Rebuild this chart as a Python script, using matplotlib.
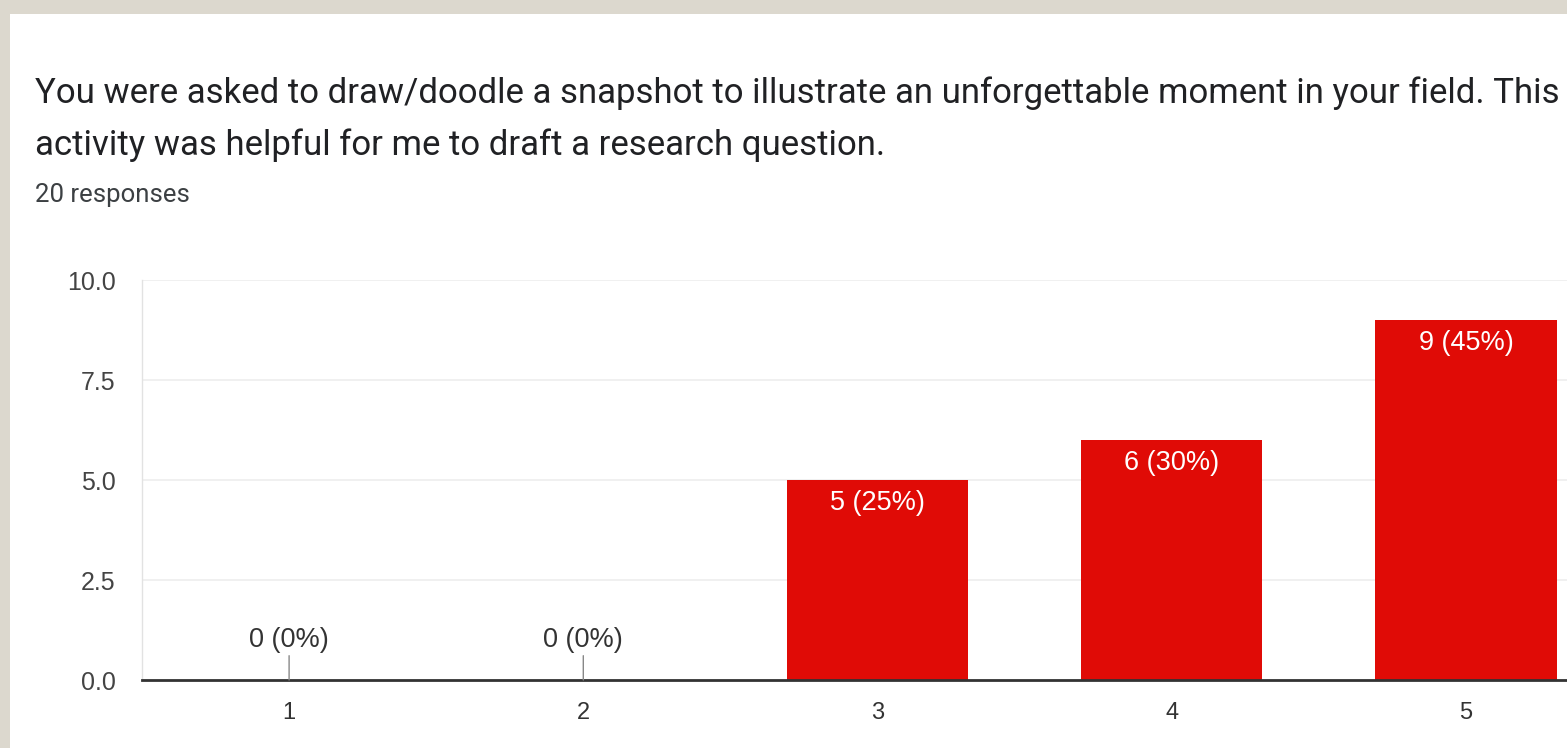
import matplotlib
matplotlib.use("Agg")
import matplotlib.pyplot as plt
from matplotlib.patches import Rectangle

# Survey results (linear scale question)
categories = ["1", "2", "3", "4", "5"]
counts = [0, 0, 5, 6, 9]
total_responses = 20
y_ticks = [0.0, 2.5, 5.0, 7.5, 10.0]

title_lines = [
    "You were asked to draw/doodle a snapshot to illustrate an unforgettable moment in your field. This",
    "activity was helpful for me to draft a research question.",
]
subtitle = f"{total_responses} responses"

BAR_RED = "#e00b06"
PAGE_BG = "#dcd8ce"
TEXT_DARK = "#202124"
TICK_GREY = "#444444"

W, H, DPI = 1567, 748, 100
fig = plt.figure(figsize=(W / DPI, H / DPI), dpi=DPI)
fig.patch.set_facecolor(PAGE_BG)

# white card on the beige page
card = Rectangle((10 / W, 0), 1, 1 - 14 / H, transform=fig.transFigure,
                 facecolor="white", edgecolor="none", zorder=-10)
fig.patches.append(card)

# heading text
fig.text(35 / W, 1 - 103 / H, title_lines[0], family="Roboto", fontsize=25,
         color=TEXT_DARK, va="baseline", ha="left")
fig.text(35 / W, 1 - 155 / H, title_lines[1], family="Roboto", fontsize=25,
         color=TEXT_DARK, va="baseline", ha="left")
fig.text(35 / W, 1 - 202 / H, subtitle, family="Roboto", fontsize=18.5,
         color="#3c4043", va="baseline", ha="left")

# plot area
left_px, right_px, bottom_px, top_px = 142, 1613, 680, 280
ax = fig.add_axes([left_px / W, 1 - bottom_px / H,
                   (right_px - left_px) / W, (bottom_px - top_px) / H])
ax.set_facecolor("white")

x = list(range(1, len(categories) + 1))
ax.bar(x, counts, width=0.616, color=BAR_RED, zorder=3)

ax.set_xlim(0.5, len(categories) + 0.5)
ax.set_ylim(0, 10)
ax.set_yticks(y_ticks)
ax.set_yticklabels([f"{t:.1f}" for t in y_ticks])
ax.set_xticks(x)
ax.set_xticklabels(categories)

for s in ["top", "right"]:
    ax.spines[s].set_visible(False)
ax.spines["left"].set_color("#e2e2e2")
ax.spines["left"].set_linewidth(1)
ax.spines["bottom"].set_color("#333333")
ax.spines["bottom"].set_linewidth(2)
ax.spines["bottom"].set_zorder(5)

ax.grid(axis="y", color="#eeeeee", linewidth=1.2, zorder=0)
ax.tick_params(axis="both", length=0)
ax.tick_params(axis="y", pad=19, labelsize=18, labelcolor=TICK_GREY)
ax.tick_params(axis="x", pad=16, labelsize=17, labelcolor="#333333")
for lab in ax.get_xticklabels() + ax.get_yticklabels():
    lab.set_family("Liberation Sans")

# value labels
for xi, c in zip(x, counts):
    pct = 100 * c / total_responses
    text = f"{c} ({pct:.0f}%)"
    if c == 0:
        ax.annotate(text, xy=(xi, 0), xytext=(0, 19.5), textcoords="offset points",
                    ha="center", va="bottom", fontsize=19.5, color="#333333",
                    family="Liberation Sans",
                    arrowprops=dict(arrowstyle="-", color="#888888", lw=1,
                                    shrinkA=0, shrinkB=0), zorder=6)
    else:
        ax.annotate(text, xy=(xi, c), xytext=(0, -7), textcoords="offset points",
                    ha="center", va="top", fontsize=19.5, color="white",
                    family="Liberation Sans", zorder=6)

fig.savefig("out.png", dpi=DPI, facecolor=fig.get_facecolor())
